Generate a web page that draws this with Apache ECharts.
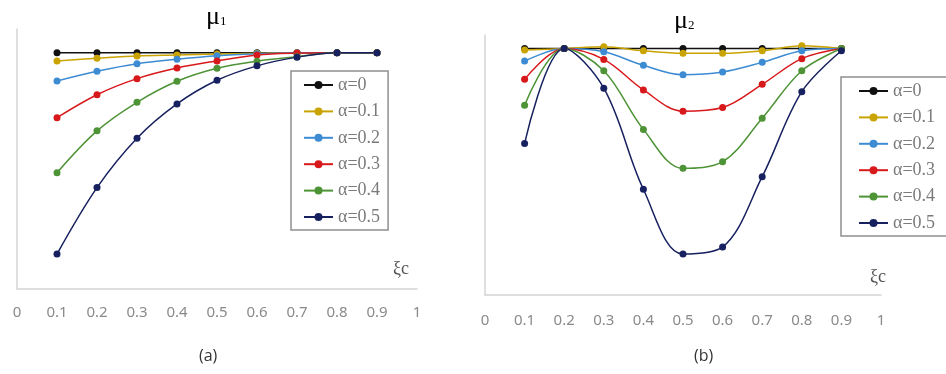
<!DOCTYPE html>
<html>
<head>
<meta charset="utf-8">
<script src="https://cdn.jsdelivr.net/npm/echarts@6/dist/echarts.min.js"></script>
<style>html,body{margin:0;padding:0;background:#fff;}#c{width:946px;height:374px;}</style>
</head>
<body>
<div id="c"></div>
<script>
const xs = [0.1, 0.2, 0.3, 0.4, 0.5, 0.6, 0.7, 0.8, 0.9];
const names = ['α=0', 'α=0.1', 'α=0.2', 'α=0.3', 'α=0.4', 'α=0.5'];
const colors = ['#111111', '#c9a300', '#3d8bd3', '#d8191c', '#4e9436', '#17215f'];

// chart (a): mu1
const mu1_a0  = [1, 1, 1, 1, 1, 1, 1, 1, 1];
const mu1_a01 = [0.965, 0.976, 0.986, 0.990, 0.994, 0.997, 1, 1, 1];
const mu1_a02 = [0.880, 0.921, 0.953, 0.972, 0.987, 0.995, 0.999, 1, 1];
const mu1_a03 = [0.725, 0.822, 0.890, 0.935, 0.965, 0.990, 0.998, 1, 1];
const mu1_a04 = [0.492, 0.669, 0.790, 0.879, 0.934, 0.964, 0.983, 1, 1];
const mu1_a05 = [0.148, 0.429, 0.638, 0.783, 0.883, 0.944, 0.981, 1, 1];

// chart (b): mu2
const mu2_a0  = [1, 1, 1, 1, 1, 1, 1, 1, 1];
const mu2_a01 = [0.994, 1.0, 1.007, 0.991, 0.981, 0.981, 0.991, 1.011, 1.0];
const mu2_a02 = [0.949, 1.0, 0.987, 0.932, 0.894, 0.905, 0.944, 0.991, 1.0];
const mu2_a03 = [0.875, 1.0, 0.956, 0.832, 0.746, 0.761, 0.855, 0.959, 1.0];
const mu2_a04 = [0.770, 1.0, 0.910, 0.672, 0.514, 0.541, 0.717, 0.910, 1.0];
const mu2_a05 = [0.615, 1.0, 0.839, 0.429, 0.166, 0.195, 0.480, 0.825, 0.991];

const mu1 = [mu1_a0, mu1_a01, mu1_a02, mu1_a03, mu1_a04, mu1_a05];
const mu2 = [mu2_a0, mu2_a01, mu2_a02, mu2_a03, mu2_a04, mu2_a05];

const chart = echarts.init(document.getElementById('c'), null, {renderer: 'canvas'});

function mkSeries(arr, idx) {
  return arr.map((vals, i) => ({
    name: names[i],
    type: 'line',
    xAxisIndex: idx,
    yAxisIndex: idx,
    data: xs.map((x, k) => [x, vals[k]]),
    smooth: 0.35,
    symbol: 'circle',
    symbolSize: 7,
    color: colors[i],
    lineStyle: {width: 1.5, color: colors[i]},
    itemStyle: {color: colors[i]},
    emphasis: {disabled: true},
    animation: false
  }));
}

function xAxisDef(idx, margin) {
  return {
    gridIndex: idx, type: 'value', min: 0, max: 1, interval: 0.1,
    axisLine: {show: true, lineStyle: {color: '#d4d4d4', width: 1.5}},
    axisTick: {show: false},
    splitLine: {show: false},
    axisLabel: {color: '#8a8a8a', fontSize: 15, fontFamily: 'Noto Sans', margin: margin,
      formatter: v => String(Math.round(v * 10) / 10)}
  };
}
function yAxisDef(idx, max) {
  return {
    gridIndex: idx, type: 'value', min: 0, max: max,
    axisLine: {show: true, onZero: false, lineStyle: {color: '#d4d4d4', width: 1.5}},
    axisTick: {show: false}, axisLabel: {show: false}, splitLine: {show: false}
  };
}
function legendDef(left, top, pad) {
  return {
    data: names, orient: 'vertical', left: left, top: top,
    padding: pad, itemGap: 8.4, itemWidth: 29, itemHeight: 10,
    borderColor: '#8f8f8f', borderWidth: 1.5, backgroundColor: '#fff',
    textStyle: {color: '#7a7a7a', fontSize: 18, lineHeight: 18, fontFamily: 'Liberation Serif'},
    selectedMode: false
  };
}

const rich = {
  m: {fontSize: 26, fontFamily: 'Liberation Serif', color: '#444', verticalAlign: 'bottom'},
  s: {fontSize: 13, fontFamily: 'Liberation Serif', color: '#444', verticalAlign: 'bottom', padding: [0, 0, 2, 0]}
};

chart.setOption({
  animation: false,
  grid: [
    {left: 17, top: 29, width: 400, height: 260},
    {left: 485, top: 35, width: 396, height: 260}
  ],
  xAxis: [xAxisDef(0, 16), xAxisDef(1, 18)],
  yAxis: [yAxisDef(0, 1.1), yAxisDef(1, 1.055)],
  legend: [legendDef(291, 71, [5, 8, 4, 12]), legendDef(841, 77, [5, 14, 4, 17])],
  series: mkSeries(mu1, 0).concat(mkSeries(mu2, 1)),
  graphic: [
    {type: 'text', left: 206, top: 4, style: {text: '{m|μ}{s|1}', rich: rich}},
    {type: 'text', left: 674, top: 8, style: {text: '{m|μ}{s|2}', rich: rich}},
    {type: 'text', left: 393, top: 260, style: {text: 'ξc', fontSize: 18, fontFamily: 'Liberation Serif', fill: '#555'}},
    {type: 'text', left: 870, top: 268, style: {text: 'ξc', fontSize: 18, fontFamily: 'Liberation Serif', fill: '#555'}},
    {type: 'text', left: 199, top: 348, style: {text: '(a)', fontSize: 16, fontFamily: 'Open Sans', fill: '#333'}},
    {type: 'text', left: 694, top: 348, style: {text: '(b)', fontSize: 16, fontFamily: 'Open Sans', fill: '#333'}}
  ]
});
</script>
</body>
</html>
